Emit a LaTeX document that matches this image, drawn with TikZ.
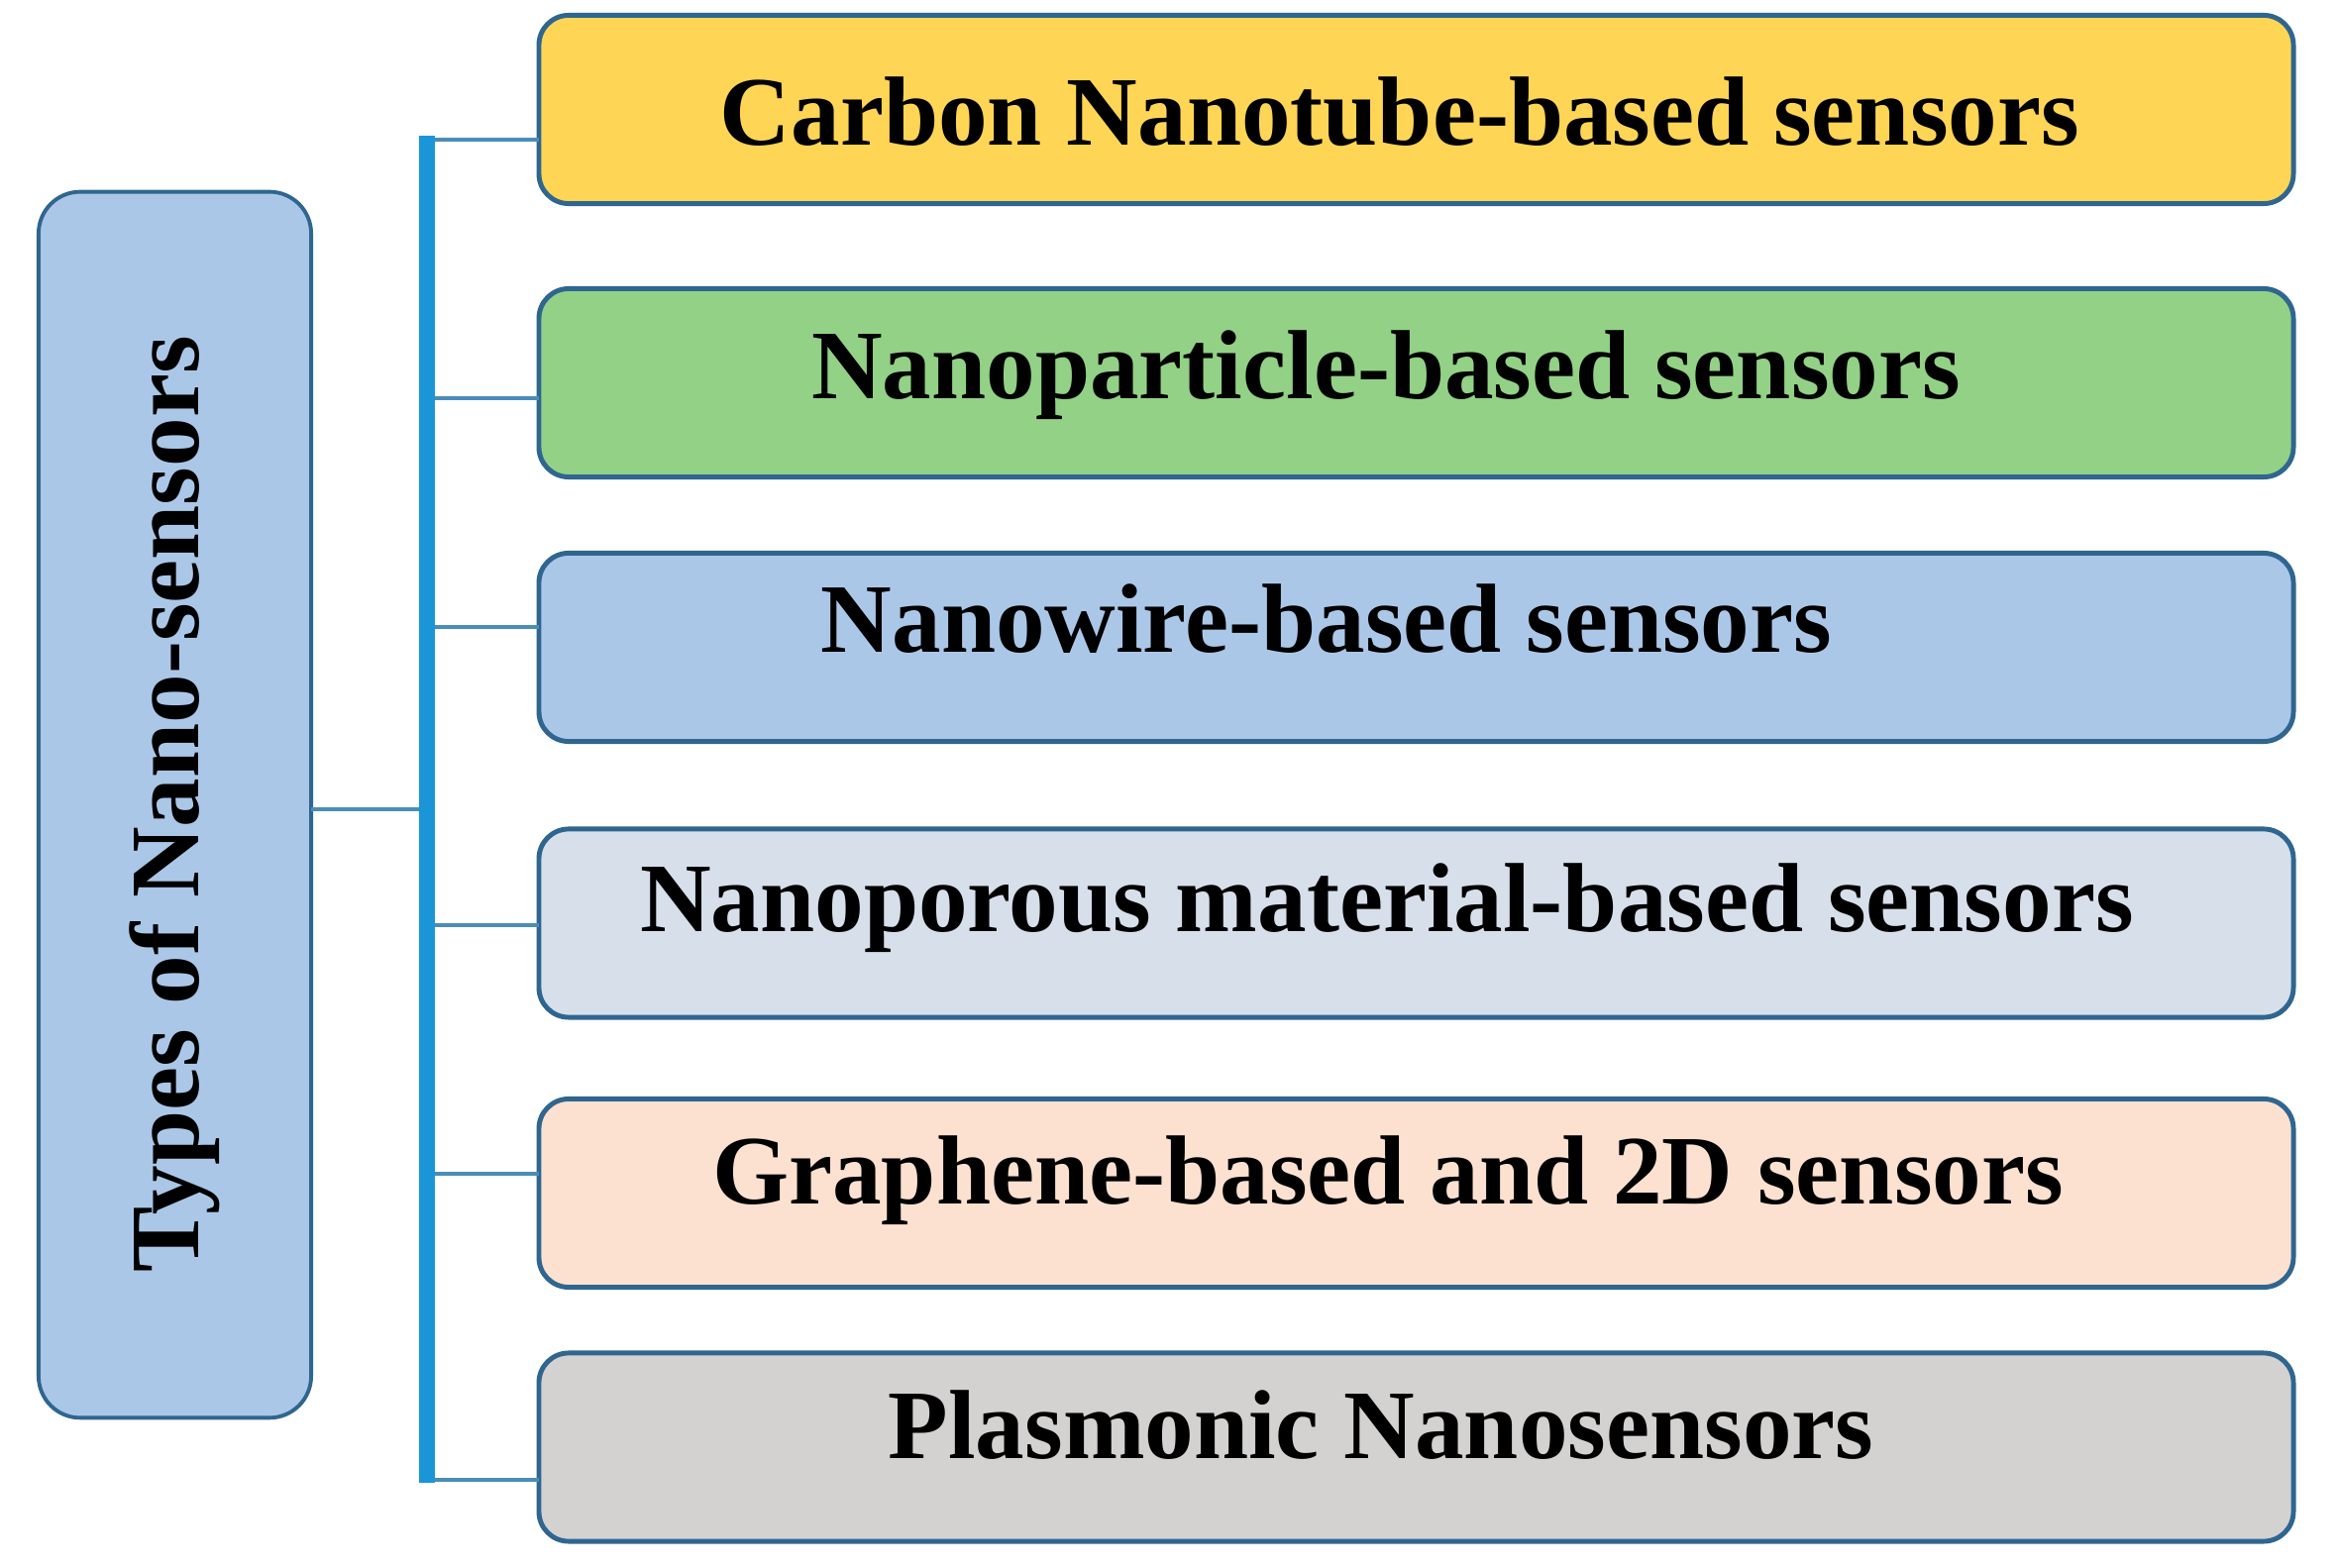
\documentclass[tikz,border=0pt]{standalone}
\usepackage{fontspec}
\setmainfont{Liberation Serif}
\definecolor{bord}{HTML}{2F6690}
\definecolor{barc}{HTML}{1B95D8}
\definecolor{connc}{HTML}{4A8DB8}
\definecolor{cyel}{HTML}{FFD555}
\definecolor{cgrn}{HTML}{93D186}
\definecolor{cblu}{HTML}{ABC7E8}
\definecolor{cgbl}{HTML}{D6DFEA}
\definecolor{cpch}{HTML}{FCE1D0}
\definecolor{cgry}{HTML}{D4D1D1}
\begin{document}
\begin{tikzpicture}[x=0.01cm,y=-0.01cm,
  box/.style={draw=bord, line width=1.4pt, rounded corners=0.3cm, minimum width=17.7cm, minimum height=1.9cm, inner sep=0pt, outer sep=0pt},
  rootbox/.style={draw=bord, fill=cblu, line width=1.1pt, rounded corners=0.42cm, minimum width=2.75cm, minimum height=12.37cm, inner sep=0pt, outer sep=0pt},
  lbl/.style={font=\bfseries\fontsize{28.2}{34}\selectfont, anchor=base, inner sep=0pt},
  conn/.style={draw=connc, line width=0.9pt},
  barline/.style={draw=barc, line width=4.8pt}]
\useasboundingbox (0,0) rectangle (2360,1583);

% root box
\node[rootbox] (root) at (176.5,812.5) {};
\node[lbl, rotate=90] (roottxt) at (200,812) {Types of Nano-sensors};

% category boxes
\node[box, fill=cyel] (b1) at (1429.5,110.5) {};
\node[box, fill=cgrn] (b2) at (1429.5,386.5) {};
\node[box, fill=cblu] (b3) at (1429.5,653.5) {};
\node[box, fill=cgbl] (b4) at (1429.5,932) {};
\node[box, fill=cpch] (b5) at (1429.5,1204.5) {};
\node[box, fill=cgry] (b6) at (1429.5,1461) {};

\node[lbl] (t1) at (1413,147) {Carbon Nanotube-based sensors};
\node[lbl] (t2) at (1399,403) {Nanoparticle-based sensors};
\node[lbl] (t3) at (1339,659) {Nanowire-based sensors};
\node[lbl] (t4) at (1400,941) {Nanoporous material-based sensors};
\node[lbl] (t5) at (1401,1216) {Graphene-based and 2D sensors};
\node[lbl] (t6) at (1394,1472) {Plasmonic Nanosensors};

% bar
\coordinate (bartop) at (431,137);
\coordinate (barbot) at (431,1497);
\coordinate (rootjoin) at (root.east |- 0,817);

% connectors
\draw[conn] (rootjoin) -- (bartop |- rootjoin);
\draw[conn] (bartop |- 0,141) -- (b1.west |- 0,141);
\draw[conn] (bartop |- 0,402) -- (b2.west |- 0,402);
\draw[conn] (bartop |- 0,633) -- (b3.west |- 0,633);
\draw[conn] (bartop |- 0,934) -- (b4.west |- 0,934);
\draw[conn] (bartop |- 0,1185) -- (b5.west |- 0,1185);
\draw[conn] (bartop |- 0,1494) -- (b6.west |- 0,1494);
\draw[barline] (bartop) -- (barbot);
\end{tikzpicture}
\end{document}
